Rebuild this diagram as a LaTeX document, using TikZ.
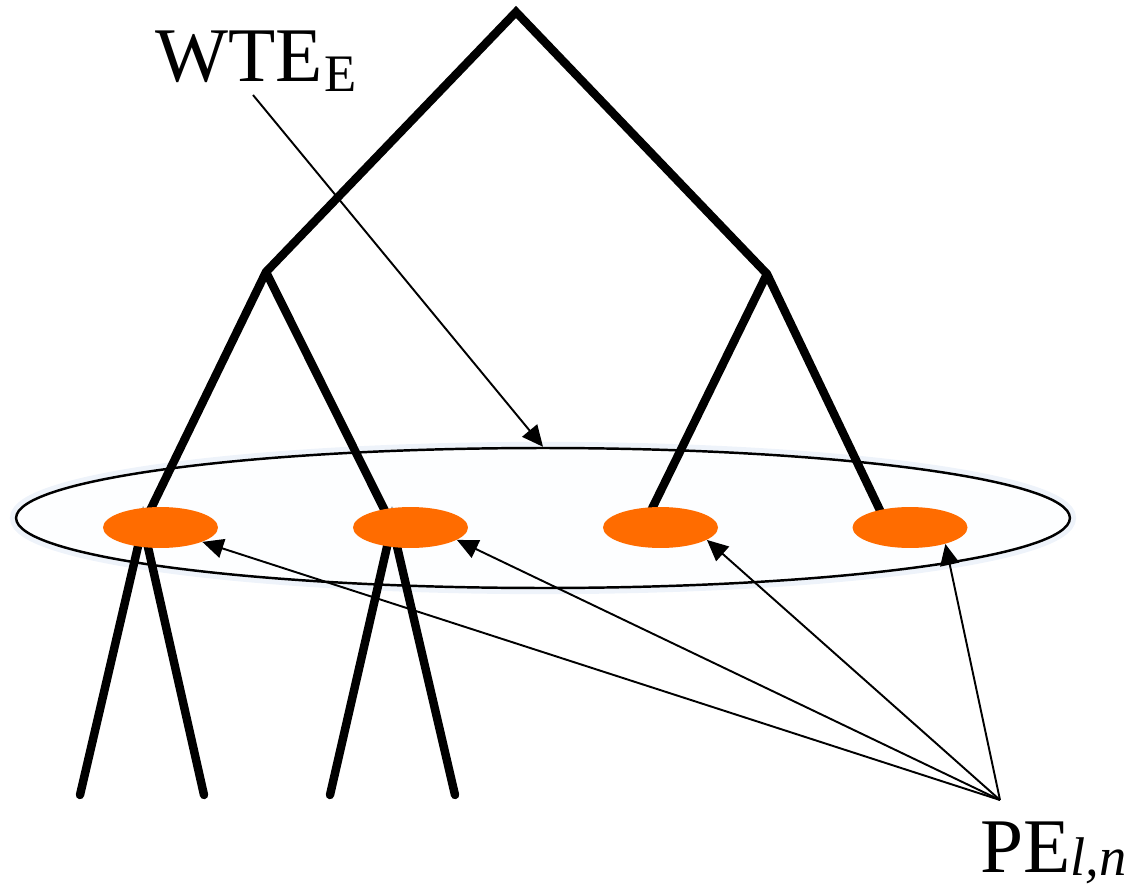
\documentclass[tikz,border=0pt]{standalone}
\usepackage{fontspec}
\setmainfont{Liberation Serif}
\usepackage{tikz}
\usetikzlibrary{arrows.meta, shapes.geometric, positioning}
\definecolor{cOrange}{RGB}{255,108,0}
\definecolor{cGlow}{RGB}{238,243,250}
\definecolor{cPale}{RGB}{253,254,255}
\tikzset{
	branch/.style  ={line width=4.8pt, line cap=round, line join=miter},
	peblob/.style  ={ellipse, fill=cOrange, draw=none, minimum width=2.3cm, minimum height=0.82cm, inner sep=0pt},
	region/.style  ={ellipse, draw=black, line width=1.4pt, fill=cPale, minimum width=21.08cm, minimum height=2.8cm, inner sep=0pt},
	pointer/.style ={-{Triangle[length=12pt, width=11pt]}, line width=1.1pt},
	bigtxt/.style  ={font=\fontsize{44}{50}\selectfont, inner sep=0pt},
}
\begin{document}
\begin{tikzpicture}[x=0.02cm, y=-0.02cm]
	\useasboundingbox (0,0) rectangle (1128,891);
	% tree vertices
	\coordinate (root) at (516,12);
	\coordinate (na) at (266,272);
	\coordinate (nb) at (767,274);
	\coordinate (c1) at (143,525); \coordinate (c2) at (392,525);
	\coordinate (c3) at (644,525); \coordinate (c4) at (887,525);
	\coordinate (l1) at (80,795);  \coordinate (l2) at (204,795);
	\coordinate (l3) at (330,795); \coordinate (l4) at (455,795);
	% WTE region
	\node[ellipse, draw=cGlow, line width=7pt, minimum width=21.08cm, minimum height=2.8cm] (glow) at (543,518) {};
	\node[region] (wte) at (543,518) {};
	\draw[branch] (c1) -- (na) -- (root) -- (nb) -- (c4);
	\draw[branch] (na) -- (c2); \draw[branch] (nb) -- (c3);
	\draw[branch] (l1) -- (c1) -- (l2);
	\draw[branch] (l3) -- (c2) -- (l4);
	\node[peblob] (pe1) at (160.5,527.5) {};
	\node[peblob] (pe2) at (410.5,527.5) {};
	\node[peblob] (pe3) at (660.5,527.5) {};
	\node[peblob] (pe4) at (910,527.5) {};
	% labels
	\node[bigtxt, anchor=base west] (wtelbl) at (155,82) {WTE\kern1pt\raisebox{-5.5pt}{\fontsize{30}{32}\selectfont E}};
	\node[bigtxt, anchor=base west] (pelbl) at (980,872) {PE\raisebox{-2pt}{\fontsize{31}{34}\selectfont\itshape l,n}};
	\coordinate (wtefoot) at (253,95);
	\coordinate (hub) at (1000,800);
	\draw[pointer] (wtefoot) -- (wte.north);
	\draw[pointer] (hub) -- (pe1.-19);
	\draw[pointer] (hub) -- (pe2.-15);
	\draw[pointer] (hub) -- (pe3.-15);
	\draw[pointer] (hub) -- (pe4.-25);
\end{tikzpicture}
\end{document}
